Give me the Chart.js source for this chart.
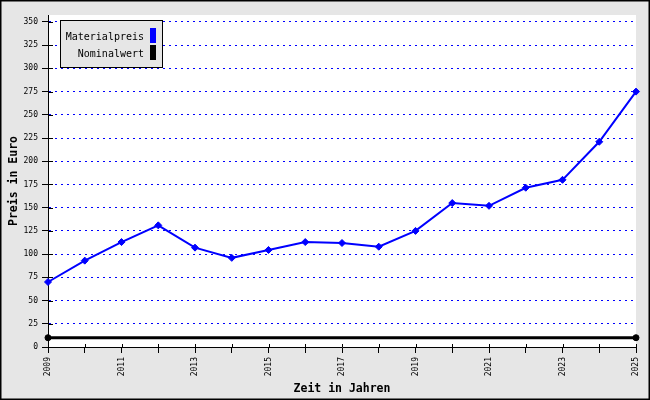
<!DOCTYPE html>
<html>
<head>
<meta charset="utf-8">
<script src="https://cdn.jsdelivr.net/npm/chart.js@4/dist/chart.umd.min.js"></script>
<style>
html,body{margin:0;padding:0;background:#e6e6e6;}
canvas{display:block;}
</style>
</head>
<body>
<canvas id="c" width="650" height="400"></canvas>
<script>
const years = [2009,2010,2011,2012,2013,2014,2015,2016,2017,2018,2019,2020,2021,2022,2023,2024,2025];
const materialpreis = [70,93,113,131,107,96,104.5,113,112,108,125,155,152,171.5,180,221,275];
const nominalYears = [2009,2025];
const nominalwert = [10,10];
const yTicks = [0,25,50,75,100,125,150,175,200,225,250,275,300,325,350];
const xTicks = years;
const xLabels = ['2009','','2011','','2013','','2015','','2017','','2019','','2021','','2023','','2025'];

const FONT = "'DejaVu Sans Mono', monospace";
Chart.defaults.font.family = FONT;
Chart.defaults.color = '#000';

const framePlugin = {
  id: 'frame',
  beforeDraw(chart) {
    const ctx = chart.ctx, a = chart.chartArea;
    ctx.save();
    ctx.fillStyle = '#e6e6e6';
    ctx.fillRect(0, 0, chart.width, chart.height);
    ctx.fillStyle = '#ffffff';
    ctx.fillRect(a.left, a.top, a.right - a.left, a.bottom - a.top);
    ctx.strokeStyle = '#000';
    ctx.lineWidth = 2;
    ctx.strokeRect(0.5, 0.5, chart.width - 1, chart.height - 1);
    ctx.restore();
  },
  afterDraw(chart) {
    const ctx = chart.ctx, a = chart.chartArea;
    const xs = chart.scales.x, ys = chart.scales.y;
    ctx.save();
    ctx.strokeStyle = '#000';
    ctx.lineWidth = 1;
    ctx.beginPath();
    yTicks.forEach(v => {
      const y = Math.round(ys.getPixelForValue(v)) + 0.5;
      ctx.moveTo(a.left, y); ctx.lineTo(a.left + 5, y);
    });
    xTicks.forEach(v => {
      const x = Math.round(xs.getPixelForValue(v)) + 0.5;
      ctx.moveTo(x, a.bottom - 3); ctx.lineTo(x, a.bottom);
    });
    ctx.stroke();
    // legend
    const bx = 60.5, by = 20.5, bw = 102, bh = 47;
    ctx.fillStyle = '#e6e6e6';
    ctx.fillRect(bx, by, bw, bh);
    ctx.strokeStyle = '#000';
    ctx.strokeRect(bx, by, bw, bh);
    ctx.font = '10px ' + FONT;
    ctx.textAlign = 'right';
    ctx.textBaseline = 'middle';
    chart.data.datasets.forEach((ds, i) => {
      const cy = 37 + i * 17;
      ctx.fillStyle = '#000';
      ctx.fillText(ds.label, 144, cy);
      ctx.fillStyle = ds.borderColor;
      ctx.fillRect(150, cy - 9, 6, 15);
    });
    ctx.restore();
  }
};

new Chart(document.getElementById('c'), {
  type: 'line',
  data: {
    datasets: [
      {
        label: 'Materialpreis',
        data: years.map((y, i) => ({x: y, y: materialpreis[i]})),
        borderColor: '#0000ff',
        backgroundColor: '#0000ff',
        borderWidth: 2,
        pointStyle: 'rectRot',
        pointRadius: 3.5,
        pointBorderWidth: 1,
        tension: 0,
        clip: false
      },
      {
        label: 'Nominalwert',
        data: nominalYears.map((y, i) => ({x: y, y: nominalwert[i]})),
        borderColor: '#000000',
        backgroundColor: '#000000',
        borderWidth: 3,
        pointStyle: 'circle',
        pointRadius: 3,
        pointBorderWidth: 1,
        tension: 0,
        clip: false
      }
    ]
  },
  options: {
    responsive: false,
    animation: false,
    devicePixelRatio: 1,
    layout: {padding: {top: 15, right: 14, left: 0, bottom: 0}},
    plugins: {legend: {display: false}, tooltip: {enabled: false}},
    scales: {
      x: {
        type: 'linear',
        min: 2009,
        max: 2025,
        afterBuildTicks(s) { s.ticks = xTicks.map(v => ({value: v})); },
        afterFit(s) { s.height = 53; },
        ticks: {
          autoSkip: false,
          minRotation: 90,
          maxRotation: 90,
          padding: 4,
          font: {size: 8, family: FONT},
          callback: (v, i) => xLabels[i]
        },
        grid: {
          color: 'rgba(0,0,0,0)',
          tickColor: '#000',
          tickLength: 6,
          lineWidth: 1
        },
        border: {display: true, color: '#000', width: 1},
        title: {
          display: true,
          text: 'Zeit in Jahren',
          font: {size: 11.5, weight: 'bold', family: FONT},
          padding: {top: 0, bottom: 4}
        }
      },
      y: {
        type: 'linear',
        min: 0,
        max: 357.5,
        afterBuildTicks(s) { s.ticks = yTicks.map(v => ({value: v})); },
        afterFit(s) { s.width = 48; },
        ticks: {
          padding: 4,
          font: {size: 8, family: FONT},
          callback: v => String(v)
        },
        grid: {
          color: c => (c.tick && c.tick.value === 0) ? 'rgba(0,0,0,0)' : '#0000ff',
          tickColor: '#000',
          tickLength: 6,
          lineWidth: 1
        },
        border: {display: true, color: '#000', width: 1, dash: [2, 4]},
        title: {
          display: true,
          text: 'Preis in Euro',
          font: {size: 11.5, weight: 'bold', family: FONT},
          padding: {top: 7, bottom: 0}
        }
      }
    }
  },
  plugins: [framePlugin]
});
</script>
</body>
</html>
